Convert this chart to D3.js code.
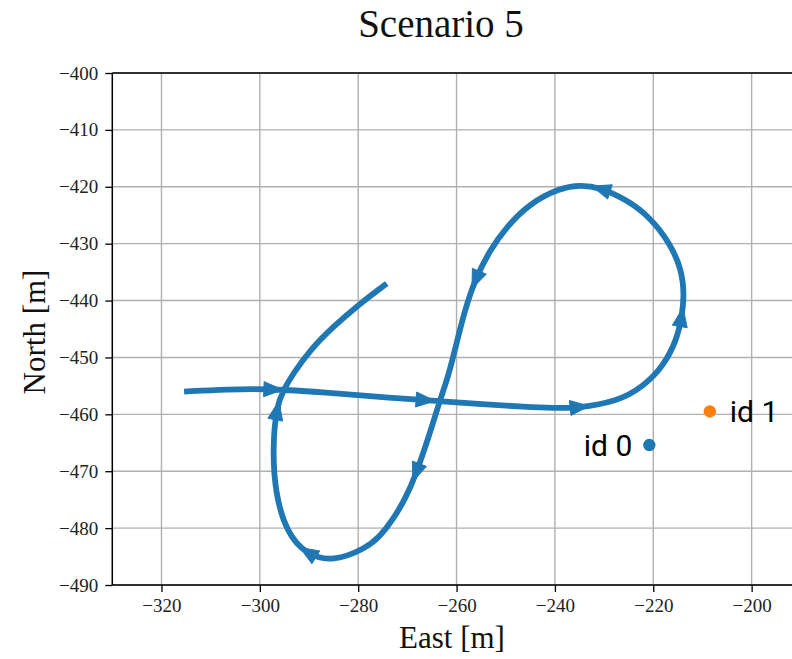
<!DOCTYPE html>
<html>
<head>
<meta charset="utf-8">
<script src="https://cdn.jsdelivr.net/npm/d3@7"></script>
<style>
  html, body { margin: 0; padding: 0; background: #fff; }
  svg { display: block; }
</style>
</head>
<body>
<svg id="chart" width="792" height="659"></svg>
<script>
// ---------- data ----------
const title = "Scenario 5";
const xLabel = "East [m]";
const yLabel = "North [m]";
const xTicks = [-320, -300, -280, -260, -240, -220, -200];
const yTicks = [-400, -410, -420, -430, -440, -450, -460, -470, -480, -490];

// trajectory of id 0 (east, north)
const trajEast = [-315.4, -306.7, -297.6, -286.4, -276.2, -266.6, -255.2, -246.0, -240.0, -235.6,
  -227.4, -222.0, -218.0, -215.2, -214.2, -213.7, -214.2, -216.6, -220.7, -225.4,
  -230.9, -234.9, -239.0, -245.1, -249.8, -253.2, -256.3, -258.3, -260.0, -261.7,
  -263.5, -265.4, -268.4, -270.3, -272.9, -275.6, -278.5, -285.1, -290.5, -294.5,
  -296.9, -297.4, -296.6, -295.2, -293.2, -289.8, -285.1, -279.6, -274.2];
const trajNorth = [-456.0, -455.6, -455.5, -456.2, -456.9, -457.5, -458.2, -458.7, -458.9, -458.9,
  -457.8, -455.1, -451.6, -446.9, -442.8, -439.3, -434.6, -429.9, -425.3, -422.3,
  -420.1, -419.7, -420.2, -422.9, -427.0, -431.1, -436.4, -441.65, -447.5, -453.4,
  -457.8, -463.3, -470.9, -474.6, -478.5, -481.5, -483.6, -485.9, -484.7, -480.9,
  -473.9, -465.7, -458.6, -455.7, -452.8, -448.7, -444.6, -440.5, -437.0];
// indices of trajectory points carrying a direction arrow
const arrowIdx = [2, 5, 9, 14, 20, 26, 32, 38, 42];

// agents
const agentNames = ["id 0", "id 1"];
const agentEast = [-220.8, -208.5];
const agentNorth = [-465.4, -459.5];
const agentColors = ["#1f77b4", "#ff7f0e"];

// ---------- layout ----------
const svg = d3.select("#chart");
const mLeft = 112.3, mTop = 73, mBottom = 585, mRight = 800;
const x = d3.scaleLinear().domain([-330, -190]).range([mLeft, mLeft + 140 * 4.918]);
const y = d3.scaleLinear().domain([-400, -490]).range([mTop, mBottom]);

const serif = "'Liberation Serif', 'DejaVu Serif', serif";

svg.append("defs").append("clipPath").attr("id", "clip")
  .append("rect").attr("x", mLeft).attr("y", mTop).attr("width", mRight - mLeft).attr("height", mBottom - mTop);

// grid
const grid = svg.append("g");
grid.selectAll("line.vx").data(xTicks).join("line")
  .attr("x1", d => x(d)).attr("x2", d => x(d)).attr("y1", mTop).attr("y2", mBottom)
  .attr("stroke", "#b0b0b0").attr("stroke-width", 1.4);
grid.selectAll("line.hy").data(yTicks).join("line")
  .attr("x1", mLeft).attr("x2", mRight).attr("y1", d => y(d)).attr("y2", d => y(d))
  .attr("stroke", "#b0b0b0").attr("stroke-width", 1.4);

// axes
const fmt = d3.format("d");
const xAxis = svg.append("g").attr("transform", `translate(0,${mBottom})`)
  .call(d3.axisBottom(x).tickValues(xTicks).tickFormat(fmt).tickSize(7).tickPadding(7));
const yAxis = svg.append("g").attr("transform", `translate(${mLeft},0)`)
  .call(d3.axisLeft(y).tickValues(yTicks).tickFormat(fmt).tickSize(7).tickPadding(7));
[xAxis, yAxis].forEach(a => {
  a.attr("font-family", serif).attr("font-size", 19);
  a.select(".domain").remove();
  a.selectAll(".tick line").attr("stroke", "#000").attr("stroke-width", 1.3);
  a.selectAll(".tick text").attr("font-family", serif).attr("font-size", 19).attr("fill", "#222");
});

// spines (left, top, bottom; right falls outside the picture)
svg.append("line").attr("x1", mLeft).attr("x2", mLeft).attr("y1", mTop).attr("y2", mBottom)
  .attr("stroke", "#000").attr("stroke-width", 1.5);
svg.append("line").attr("x1", mLeft).attr("x2", mRight).attr("y1", mTop).attr("y2", mTop)
  .attr("stroke", "#000").attr("stroke-width", 1.5);
svg.append("line").attr("x1", mLeft).attr("x2", mRight).attr("y1", mBottom).attr("y2", mBottom)
  .attr("stroke", "#000").attr("stroke-width", 1.5);

// trajectory
const pts = trajEast.map((e, i) => [e, trajNorth[i]]);
const plot = svg.append("g").attr("clip-path", "url(#clip)");
plot.append("path")
  .datum(pts)
  .attr("d", d3.line().x(d => x(d[0])).y(d => y(d[1])).curve(d3.curveBasis))
  .attr("fill", "none").attr("stroke", "#1f77b4").attr("stroke-width", 5.8)
  .attr("stroke-linecap", "butt").attr("stroke-linejoin", "round");

// arrows
const arrowLen = 19, arrowHalf = 7.5;
plot.selectAll("path.arrow").data(arrowIdx).join("path")
  .attr("d", i => {
    const p = pts[i], a = pts[i - 1], b = pts[i + 1];
    const dx = x(b[0]) - x(a[0]), dy = y(b[1]) - y(a[1]);
    const L = Math.hypot(dx, dy), ux = dx / L, uy = dy / L;
    // centre on the smoothed curve
    const cx = (x(a[0]) + 4 * x(p[0]) + x(b[0])) / 6, cy = (y(a[1]) + 4 * y(p[1]) + y(b[1])) / 6;
    const tip = [cx + ux * arrowLen * 0.5, cy + uy * arrowLen * 0.5];
    const bx = cx - ux * arrowLen * 0.5, by = cy - uy * arrowLen * 0.5;
    const b1 = [bx - uy * arrowHalf, by + ux * arrowHalf];
    const b2 = [bx + uy * arrowHalf, by - ux * arrowHalf];
    return `M${tip}L${b1}L${b2}Z`;
  })
  .attr("fill", "#1f77b4").attr("stroke", "#1f77b4").attr("stroke-width", 1);

// agents
plot.selectAll("circle.agent").data(agentNames).join("circle")
  .attr("cx", (d, i) => x(agentEast[i])).attr("cy", (d, i) => y(agentNorth[i]))
  .attr("r", 6.2).attr("fill", (d, i) => agentColors[i]);
svg.selectAll("text.agent").data(agentNames).join("text")
  .attr("x", (d, i) => x(agentEast[i]) + (i === 0 ? -17 : 20))
  .attr("y", (d, i) => y(agentNorth[i]) + 11)
  .attr("text-anchor", (d, i) => i === 0 ? "end" : "start")
  .attr("font-family", "Roboto, 'Noto Sans', sans-serif")
  .attr("font-size", 30).attr("fill", "#000")
  .text(d => d);

// titles
svg.append("text").attr("x", 441).attr("y", 37).attr("text-anchor", "middle")
  .attr("font-family", serif).attr("font-size", 39).attr("fill", "#111").text(title);
svg.append("text").attr("x", 452).attr("y", 648).attr("text-anchor", "middle")
  .attr("font-family", serif).attr("font-size", 31).attr("fill", "#111").text(xLabel);
svg.append("text").attr("transform", "translate(45,332) rotate(-90)").attr("text-anchor", "middle")
  .attr("font-family", serif).attr("font-size", 31).attr("fill", "#111").text(yLabel);
</script>
</body>
</html>
